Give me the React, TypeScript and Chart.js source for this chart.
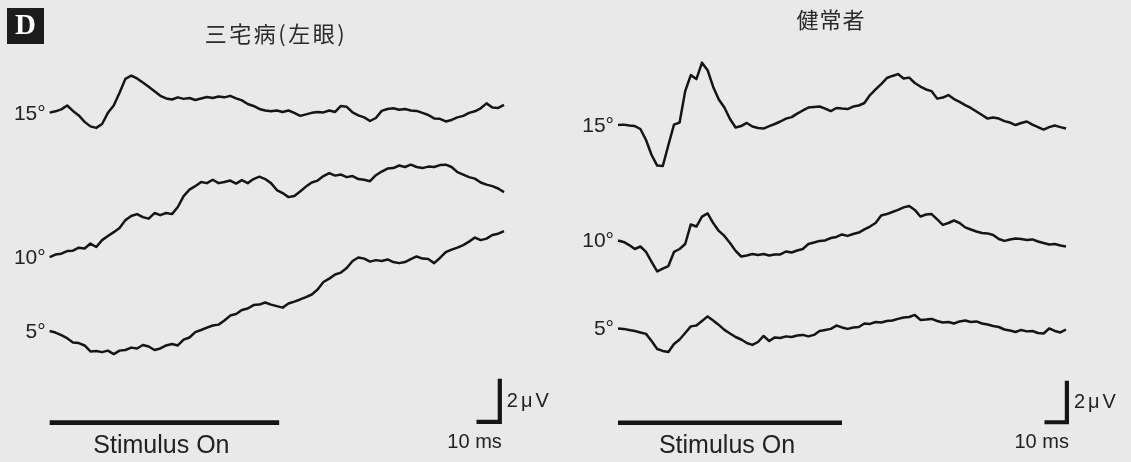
import React, { useEffect, useRef } from "react";
import { Chart, registerables } from "chart.js";

Chart.register(...registerables);

// ---------------- data ----------------
const SAMPLE_MS = 2.5; // sampling step of every trace (ms)
const ECCENTRICITIES = ["15°", "10°", "5°"];
const PANEL_LETTER = "D";
const TITLE_MIYAKE = "三宅病(左眼)";
const TITLE_NORMAL = "健常者";
const STIMULUS_LABEL = "Stimulus On";
const STIMULUS_MS_MIYAKE = [0, 98.5];
const STIMULUS_MS_NORMAL = [0, 100];
const SCALE_MS = 10;
const SCALE_UV = 2;
const SCALE_MS_LABEL = "10 ms";
const SCALE_UV_LABEL = "2μV";

// Miyake disease (left eye), μV relative to each trace's start
const MIYAKE_15 = [0, 0.06, 0.15, 0.33, 0.08, -0.13, -0.43, -0.64, -0.71, -0.53, -0.01, 0.33, 0.92, 1.57, 1.72, 1.59, 1.40, 1.20, 0.99, 0.78, 0.66, 0.61, 0.71, 0.64, 0.68, 0.59, 0.66, 0.73, 0.68, 0.75, 0.71, 0.78, 0.66, 0.57, 0.40, 0.31, 0.17, 0.10, 0.06, 0.10, 0.03, 0.10, -0.01, -0.15, -0.08, -0.01, 0.03, 0.01, 0.10, 0.03, 0.31, 0.27, 0.01, -0.13, -0.22, -0.39, -0.25, 0.08, 0.17, 0.20, 0.13, 0.17, 0.10, 0.08, -0.01, -0.11, -0.27, -0.29, -0.41, -0.34, -0.22, -0.15, -0.01, 0.06, 0.20, 0.43, 0.24, 0.22, 0.36];
const MIYAKE_10 = [0, 0.12, 0.16, 0.28, 0.30, 0.44, 0.40, 0.63, 0.47, 0.79, 0.98, 1.16, 1.35, 1.72, 1.91, 2.00, 1.86, 1.79, 2.05, 1.95, 2.05, 2.00, 2.33, 2.84, 3.14, 3.30, 3.49, 3.44, 3.60, 3.44, 3.49, 3.56, 3.42, 3.58, 3.44, 3.63, 3.74, 3.63, 3.44, 3.12, 2.98, 2.79, 2.84, 3.05, 3.28, 3.47, 3.56, 3.77, 3.91, 3.79, 3.84, 3.72, 3.77, 3.63, 3.60, 3.53, 3.81, 3.98, 4.12, 4.14, 4.26, 4.19, 4.30, 4.19, 4.14, 4.21, 4.19, 4.28, 4.30, 4.19, 3.95, 3.84, 3.72, 3.65, 3.47, 3.37, 3.30, 3.19, 3.02];
const MIYAKE_5 = [0, -0.07, -0.19, -0.33, -0.53, -0.56, -0.67, -0.95, -0.93, -0.98, -0.91, -1.07, -0.91, -0.88, -0.77, -0.81, -0.65, -0.72, -0.88, -0.81, -0.67, -0.60, -0.67, -0.40, -0.30, -0.05, 0.05, 0.16, 0.26, 0.30, 0.49, 0.72, 0.79, 0.98, 1.05, 1.21, 1.23, 1.33, 1.23, 1.16, 1.09, 1.28, 1.37, 1.47, 1.58, 1.70, 1.93, 2.28, 2.44, 2.63, 2.72, 2.93, 3.26, 3.42, 3.37, 3.23, 3.30, 3.26, 3.33, 3.21, 3.16, 3.21, 3.35, 3.47, 3.37, 3.35, 3.16, 3.40, 3.67, 3.79, 3.88, 4.00, 4.16, 4.35, 4.23, 4.30, 4.47, 4.53, 4.65];

// Normal subject
const NORMAL_15 = [0, 0.02, -0.02, -0.05, -0.19, -0.72, -1.44, -1.95, -1.97, -0.96, 0.02, 0.12, 1.63, 2.40, 2.21, 3.00, 2.64, 1.83, 1.23, 0.84, 0.29, -0.12, -0.05, 0.10, -0.07, -0.14, -0.17, -0.05, 0.05, 0.17, 0.31, 0.38, 0.55, 0.70, 0.84, 0.87, 0.89, 0.79, 0.67, 0.82, 0.79, 0.77, 0.89, 0.94, 1.06, 1.44, 1.71, 1.97, 2.26, 2.36, 2.45, 2.24, 2.28, 2.02, 1.85, 1.71, 1.63, 1.27, 1.32, 1.44, 1.25, 1.11, 0.96, 0.82, 0.65, 0.48, 0.31, 0.36, 0.31, 0.19, 0.12, 0, 0.10, 0.17, 0.02, -0.10, -0.22, -0.10, -0.02, -0.10, -0.17];
const NORMAL_10 = [0, -0.07, -0.22, -0.41, -0.29, -0.55, -1.03, -1.49, -1.35, -1.23, -0.55, -0.41, -0.17, 0.77, 0.67, 1.15, 1.30, 0.84, 0.46, 0.22, -0.12, -0.50, -0.77, -0.72, -0.65, -0.70, -0.65, -0.72, -0.67, -0.67, -0.53, -0.58, -0.48, -0.41, -0.17, -0.10, -0.02, 0, 0.12, 0.17, 0.29, 0.22, 0.31, 0.38, 0.53, 0.67, 0.84, 1.20, 1.27, 1.37, 1.47, 1.59, 1.66, 1.47, 1.15, 1.25, 1.27, 1.01, 0.75, 0.84, 0.96, 0.84, 0.63, 0.53, 0.43, 0.36, 0.34, 0.26, 0.07, -0.02, 0.05, 0.10, 0.07, 0.02, 0.05, -0.05, -0.12, -0.19, -0.17, -0.24, -0.29];
const NORMAL_5 = [0, -0.02, -0.07, -0.12, -0.19, -0.26, -0.60, -0.99, -1.08, -1.13, -0.75, -0.53, -0.22, 0.10, 0.14, 0.36, 0.58, 0.38, 0.17, -0.07, -0.24, -0.41, -0.53, -0.70, -0.79, -0.65, -0.36, -0.60, -0.43, -0.46, -0.38, -0.41, -0.34, -0.31, -0.38, -0.31, -0.12, -0.07, -0.02, 0.14, 0.05, -0.02, 0.05, 0.07, 0.24, 0.22, 0.31, 0.29, 0.36, 0.38, 0.46, 0.53, 0.55, 0.65, 0.41, 0.43, 0.46, 0.36, 0.29, 0.31, 0.24, 0.34, 0.38, 0.31, 0.34, 0.24, 0.19, 0.12, 0.07, -0.05, -0.10, -0.17, -0.07, -0.14, -0.12, -0.22, -0.24, 0, -0.12, -0.19, -0.05];

// vertical stacking of the traces (μV above the panel floor)
const MIYAKE_OFFSETS_UV = [16.25, 9.53, 6.09];
const NORMAL_OFFSETS_UV = [16.2, 10.65, 6.42];

// ---------------- layout / style ----------------
const W = 1131;
const H = 462;
const BG = "#e9e9e9";
const INK = "#151515";
const TEXT = "#222222";
const SANS = '"Liberation Sans", Arial, Helvetica, sans-serif';
const CJK = '"Noto Sans CJK JP", "Noto Sans CJK SC", sans-serif';

type Panel = {
  left: number;
  width: number;
  zeroPx: number;
  pxPerMs: number;
  pxPerUv: number;
  traces: number[][];
  offsets: number[];
  stim: number[];
  stimUv: number;
  cornerMs: number;
  cornerUv: number;
  title: string;
  titleX: number;
  titleY: number;
  titleSpacing: string;
  letter: boolean;
};

const PANELS: Panel[] = [
  {
    left: 0, width: 565, zeroPx: 49.66, pxPerMs: 2.33, pxPerUv: 21.5,
    traces: [MIYAKE_15, MIYAKE_10, MIYAKE_5], offsets: MIYAKE_OFFSETS_UV,
    stim: STIMULUS_MS_MIYAKE, stimUv: 1.83, cornerMs: 193.2, cornerUv: 1.87,
    title: TITLE_MIYAKE, titleX: 276, titleY: 34, titleSpacing: "2.5px", letter: true,
  },
  {
    left: 565, width: 566, zeroPx: 53, pxPerMs: 2.24, pxPerUv: 20.8,
    traces: [NORMAL_15, NORMAL_10, NORMAL_5], offsets: NORMAL_OFFSETS_UV,
    stim: STIMULUS_MS_NORMAL, stimUv: 1.89, cornerMs: 200.4, cornerUv: 1.91,
    title: TITLE_NORMAL, titleX: 266, titleY: 20, titleSpacing: "1px", letter: false,
  },
];

function buildConfig(p: Panel): any {
  const datasets: any[] = p.traces.map((vals, k) => ({
    label: ECCENTRICITIES[k],
    data: vals.map((v, i) => ({ x: i * SAMPLE_MS, y: v + p.offsets[k] })),
    borderColor: INK,
    borderWidth: 2.5,
    pointRadius: 0,
    tension: 0,
    borderJoinStyle: "round",
    fill: false,
  }));
  datasets.push({
    label: STIMULUS_LABEL,
    data: [
      { x: p.stim[0], y: p.stimUv },
      { x: p.stim[1], y: p.stimUv },
    ],
    borderColor: INK,
    borderWidth: 4.6,
    pointRadius: 0,
    borderCapStyle: "butt",
    fill: false,
  });
  datasets.push({
    label: "scale",
    data: [
      { x: p.cornerMs - SCALE_MS, y: p.cornerUv },
      { x: p.cornerMs, y: p.cornerUv },
      { x: p.cornerMs, y: p.cornerUv + SCALE_UV },
    ],
    borderColor: INK,
    borderWidth: 4.2,
    pointRadius: 0,
    borderCapStyle: "butt",
    borderJoinStyle: "miter",
    fill: false,
  });

  const textPlugin = {
    id: "panelText",
    afterDatasetsDraw(chart: any) {
      const ctx = chart.ctx as CanvasRenderingContext2D;
      const xs = chart.scales.x;
      const ys = chart.scales.y;
      const setSpacing = (s: string) => {
        try { (ctx as any).letterSpacing = s; } catch (e) {}
      };
      ctx.save();
      ctx.fillStyle = TEXT;

      // eccentricity labels
      ctx.font = `21px ${SANS}`;
      ctx.textAlign = "right";
      ctx.textBaseline = "alphabetic";
      p.offsets.forEach((off, k) => {
        ctx.fillText(ECCENTRICITIES[k], xs.getPixelForValue(0) - 4, ys.getPixelForValue(off) + 7);
      });

      // stimulus label
      ctx.font = `25px ${SANS}`;
      ctx.textAlign = "center";
      const sx = (xs.getPixelForValue(p.stim[0]) + xs.getPixelForValue(p.stim[1])) / 2 - 3;
      ctx.fillText(STIMULUS_LABEL, sx, ys.getPixelForValue(p.stimUv) + 30);

      // scale bar labels
      const cx = xs.getPixelForValue(p.cornerMs);
      const cy = ys.getPixelForValue(p.cornerUv);
      ctx.font = `20px ${SANS}`;
      ctx.textAlign = "right";
      ctx.fillText(SCALE_MS_LABEL, cx + 2, cy + 26);
      ctx.textAlign = "left";
      ctx.textBaseline = "middle";
      setSpacing("3px");
      ctx.fillText(SCALE_UV_LABEL, cx + 7, (cy + ys.getPixelForValue(p.cornerUv + SCALE_UV)) / 2 + 1);

      // title
      setSpacing(p.titleSpacing);
      ctx.font = `22px ${CJK}`;
      ctx.textAlign = "center";
      ctx.textBaseline = "middle";
      ctx.fillStyle = "#2a2a2a";
      ctx.fillText(p.title, p.titleX, p.titleY);
      setSpacing("0px");

      // panel letter
      if (p.letter) {
        ctx.fillStyle = "#1c1c1c";
        ctx.fillRect(7, 8, 37, 36);
        ctx.fillStyle = "#ffffff";
        ctx.font = `bold 29px "Liberation Serif", "DejaVu Serif", serif`;
        ctx.textAlign = "center";
        ctx.textBaseline = "middle";
        ctx.fillText(PANEL_LETTER, 25.5, 27);
      }
      ctx.restore();
    },
  };

  return {
    type: "line",
    data: { datasets },
    options: {
      animation: false,
      responsive: false,
      maintainAspectRatio: false,
      events: [],
      layout: { padding: 0 },
      scales: {
        x: {
          type: "linear",
          display: false,
          min: -p.zeroPx / p.pxPerMs,
          max: (p.width - p.zeroPx) / p.pxPerMs,
        },
        y: { type: "linear", display: false, min: 0, max: H / p.pxPerUv },
      },
      plugins: {
        legend: { display: false },
        tooltip: { enabled: false },
        title: { display: false },
      },
    },
    plugins: [textPlugin],
  };
}

export default function App() {
  const leftRef = useRef<HTMLCanvasElement | null>(null);
  const rightRef = useRef<HTMLCanvasElement | null>(null);

  useEffect(() => {
    const charts: Chart[] = [];
    [leftRef.current, rightRef.current].forEach((cv, i) => {
      if (cv) charts.push(new Chart(cv, buildConfig(PANELS[i])));
    });
    return () => charts.forEach((c) => c.destroy());
  }, []);

  return (
    <div
      style={{
        position: "absolute",
        left: 0,
        top: 0,
        width: W,
        height: H,
        background: BG,
        overflow: "hidden",
      }}
    >
      {PANELS.map((p, i) => (
        <canvas
          key={i}
          ref={i === 0 ? leftRef : rightRef}
          width={p.width}
          height={H}
          style={{ position: "absolute", left: p.left, top: 0, width: p.width, height: H }}
        />
      ))}
    </div>
  );
}
